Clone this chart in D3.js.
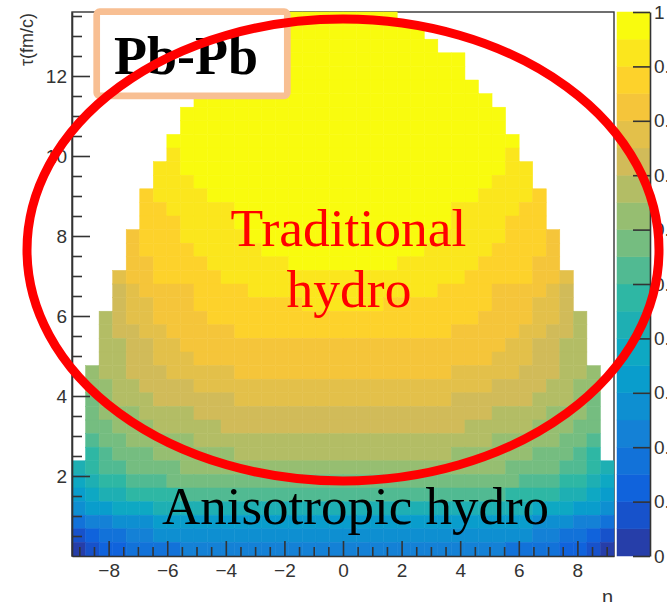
<!DOCTYPE html>
<html>
<head>
<meta charset="utf-8">
<script src="https://cdn.jsdelivr.net/npm/d3@7"></script>
<style>
    body { margin: 0; background: #fff; }
    svg { display: block; }
</style>
</head>
<body>
<div id="chart_parent"></div>
<script>
// histogram range: eta_s on x, tau (fm/c) on y, 40 x 40 bins
const etaRange = [-9.25, 9.25];
const tauRange = [0, 13.6];
const nEtaBins = 40;
const nTauBins = 40;

const xTicks = [-8, -6, -4, -2, 0, 2, 4, 6, 8];
const yTicks = [2, 4, 6, 8, 10, 12];
const zTicks = [0, 0.1, 0.2, 0.3, 0.4, 0.5, 0.6, 0.7, 0.8, 0.9, 1];

// colour level of each bin (0..9, A..J = level 0..19, '.' = empty bin)
// first row is the highest tau bin; spaces only group the columns by ten
const levelRows = [
    '.......... ......JJJJ JJJJ...... ..........',
    '.......... ....JJJJJJ JJJJJJ.... ..........',
    '.......... ...JJJJJJJ JJJJJJJ... ..........',
    '.......... .JJJJJJJJJ JJJJJJJJJ. ..........',
    '.......... .JJJJJJJJJ JJJJJJJJJ. ..........',
    '.......... JJJJJJJJJJ JJJJJJJJJJ ..........',
    '.........J JJJJJJJJJJ JJJJJJJJJJ J.........',
    '........JJ JJJJJJJJJJ JJJJJJJJJJ JJ........',
    '........JJ JJJJJJJJJJ JJJJJJJJJJ JJ........',
    '.......JJJ JJJJJJJJJJ JJJJJJJJJJ JJJ.......',
    '.......IJJ JJJJJJJJJJ JJJJJJJJJJ JJI.......',
    '......IIJJ JJJJJJJJJJ JJJJJJJJJJ JJII......',
    '......IIIJ JJJJJJJJJJ JJJJJJJJJJ JIII......',
    '.....HIIII JJJJJJJJJJ JJJJJJJJJJ IIIIH.....',
    '.....HHIII IIJJJJJJJJ JJJJJJJJII IIIHH.....',
    '.....HHHII IIJJJJJJJJ JJJJJJJJII IIHHH.....',
    '....GHHHII IIIJJJJJJJ JJJJJJJIII IIHHHG....',
    '....GHHHHI IIIIJJJJJJ JJJJJJIIII IHHHHG....',
    '....GGHHHH IIIIIIJJJJ JJJJIIIIII HHHHGG....',
    '...FGGHHHH HIIIIIIIII IIIIIIIIIH HHHHGGF...',
    '...EFGGGGH HHHIIIIIII IIIIIIIHHH HGGGGFE...',
    '...EFFGGGH HHHHHHHIII IIIHHHHHHH HGGGFFE...',
    '..DEFFGGGG HHHHHHHHHH HHHHHHHHHH GGGGFFED..',
    '..DEEFFGGG GGHHHHHHHH HHHHHHHHGG GGGFFEED..',
    '..DDEEFFGG GGGGGGGGGG GGGGGGGGGG GGFFEEDD..',
    '..DDEEFFFG GGGGGGGGGG GGGGGGGGGG GFFFEEDD..',
    '.CDDEEEFFF FFGGGGGGGG GGGGGGGGFF FFFEEEDDC.',
    '.CCDDEEEEF FFFFFFFFFF FFFFFFFFFF FEEEEDDCC.',
    '.BCDDDEEEE EEFFFFFFFF FFFFFFFFEE EEEEDDDCB.',
    '.BCCCDDDDE EEEEEEEEEE EEEEEEEEEE EDDDDCCCB.',
    '.BBCCCDDDD DEEEEEEEEE EEEEEEEEED DDDDCCCBB.',
    '.ABBCCCCCD DDDDDDDDDD DDDDDDDDDD DCCCCCBBA.',
    '.9ABBBCCCC CCDDDDDDDD DDDDDDDDCC CCCCBBBA9.',
    '89AABBBBCC CCCCCCCCCC CCCCCCCCCC CCBBBBAA98',
    '7899AAABBB BBBBBBBBBB BBBBBBBBBB BBBAAA9987',
    '67889999AA AAAAAAAAAA AAAAAAAAAA AA99998876',
    '5667778888 8888888888 8888888888 8888777665',
    '3445556666 6666666666 6666666666 6666555443',
    '1233445555 5555555555 5555555555 5555443321',
    '0122333344 4444444444 4444444444 4433332210',
];

// ROOT "bird" palette, 20 contour levels
const birdStops = [0, 0.125, 0.25, 0.375, 0.5, 0.625, 0.75, 0.875, 1];
const birdColors = ['#352a87', '#0f5cdd', '#1481d6', '#06a4ca', '#2eb7a4', '#87bf77', '#d1bb59', '#fec832', '#f9fb0e'];
const nLevels = 20;

const chartConfig = {
    outerWidth: 667,
    outerHeight: 602,
    frame: { left: 72, right: 614, top: 12, bottom: 556 },
    bar: { left: 617, right: 650 },
    axisColor: '#333',
    sans: '"Liberation Sans", Arial, sans-serif',
    serif: '"Liberation Serif", "Times New Roman", serif',
};

function buildCells(rows) {
    const etaStep = (etaRange[1] - etaRange[0]) / nEtaBins;
    const tauStep = (tauRange[1] - tauRange[0]) / nTauBins;
    const cells = [];
    rows.forEach((row, i) => {
        const bins = row.replace(/ /g, '');
        const tauBin = nTauBins - 1 - i;
        bins.split('').forEach((ch, j) => {
            if (ch === '.') {
                return;
            }
            cells.push({
                eta0: etaRange[0] + j * etaStep,
                eta1: etaRange[0] + (j + 1) * etaStep,
                tau0: tauRange[0] + tauBin * tauStep,
                tau1: tauRange[0] + (tauBin + 1) * tauStep,
                value: (parseInt(ch, 20) + 0.5) / nLevels,
            });
        });
    });
    return cells;
}

function styleAxis(g, config, size) {
    g.attr('font-family', config.sans).attr('font-size', size);
    g.selectAll('line').attr('stroke', config.axisColor).attr('stroke-width', 1.6);
    g.selectAll('path').attr('stroke', config.axisColor).attr('stroke-width', 1.6);
    g.selectAll('text').attr('fill', config.axisColor);
}

function drawChart(rootSelector, config) {
    const f = config.frame;

    const svg = d3.select(rootSelector).append('svg')
        .attr('width', config.outerWidth)
        .attr('height', config.outerHeight);

    const x = d3.scaleLinear().domain(etaRange).range([f.left, f.right]);
    const y = d3.scaleLinear().domain(tauRange).range([f.bottom, f.top]);
    const z = d3.scaleLinear().domain([0, 1]).range([f.bottom, f.top]);

    const bird = d3.scaleLinear().domain(birdStops).range(birdColors).interpolate(d3.interpolateRgb);
    const levelColors = d3.range(nLevels).map(k => bird((k + 0.99) / nLevels));
    const colour = d3.scaleQuantize().domain([0, 1]).range(levelColors);

    // frame (under the bins)
    svg.append('rect')
        .attr('x', f.left).attr('y', f.top)
        .attr('width', f.right - f.left).attr('height', f.bottom - f.top)
        .attr('fill', 'none').attr('stroke', config.axisColor).attr('stroke-width', 1.4);

    svg.append('g').selectAll('rect')
        .data(buildCells(levelRows))
        .enter()
        .append('rect')
        .attr('x', d => x(d.eta0))
        .attr('y', d => y(d.tau1))
        .attr('width', d => x(d.eta1) - x(d.eta0))
        .attr('height', d => y(d.tau0) - y(d.tau1))
        .attr('fill', d => colour(d.value))
        .attr('stroke', d => colour(d.value))
        .attr('stroke-width', 0.5);

    // x axis
    const xAxisGroup = svg.append('g').attr('transform', `translate(0,${f.bottom})`);
    xAxisGroup.call(d3.axisBottom(x).tickValues(xTicks).tickSize(-15).tickSizeOuter(0).tickPadding(8));
    styleAxis(xAxisGroup, config, 19);
    const xMinor = svg.append('g').attr('transform', `translate(0,${f.bottom})`);
    xMinor.call(d3.axisBottom(x).tickValues(d3.range(-9, 9.01, 0.5).filter(v => v % 2 !== 0))
        .tickSize(-9).tickFormat(''));
    xMinor.select('.domain').remove();
    styleAxis(xMinor, config, 19);

    // y axis
    const yAxisGroup = svg.append('g').attr('transform', `translate(${f.left},0)`);
    yAxisGroup.call(d3.axisLeft(y).tickValues(yTicks).tickSize(-18).tickSizeOuter(0).tickPadding(5));
    styleAxis(yAxisGroup, config, 19);
    const yMinor = svg.append('g').attr('transform', `translate(${f.left},0)`);
    yMinor.call(d3.axisLeft(y).tickValues(d3.range(0.5, 13.51, 0.5).filter(v => v % 2 !== 0))
        .tickSize(-10).tickFormat(''));
    yMinor.select('.domain').remove();
    styleAxis(yMinor, config, 19);

    svg.append('text')
        .attr('transform', `translate(33,${f.top + 1}) rotate(-90)`)
        .attr('text-anchor', 'end')
        .attr('font-family', config.sans)
        .attr('font-size', 18)
        .attr('fill', config.axisColor)
        .text('τ(fm/c)');

    // axis title, only its top shows at the bottom edge
    svg.append('text')
        .attr('x', 602).attr('y', 604)
        .attr('font-family', config.sans)
        .attr('font-size', 20)
        .attr('fill', config.axisColor)
        .text('η');

    // palette
    svg.append('g').selectAll('rect')
        .data(levelColors)
        .enter()
        .append('rect')
        .attr('x', config.bar.left)
        .attr('y', (d, k) => z((k + 1) / nLevels))
        .attr('width', config.bar.right - config.bar.left)
        .attr('height', (d, k) => z(k / nLevels) - z((k + 1) / nLevels))
        .attr('fill', d => d)
        .attr('stroke', d => d)
        .attr('stroke-width', 0.5);

    const zAxisGroup = svg.append('g').attr('transform', `translate(${config.bar.right},0)`);
    zAxisGroup.call(d3.axisRight(z).tickValues(zTicks).tickSize(-17).tickSizeOuter(0).tickPadding(4)
        .tickFormat(d => (d === 0 || d === 1 ? String(d) : d3.format('.1f')(d))));
    styleAxis(zAxisGroup, config, 19);

    // annotations
    svg.append('rect')
        .attr('x', 96.7).attr('y', 11.7)
        .attr('width', 190.6).attr('height', 84.1)
        .attr('rx', 3)
        .attr('fill', '#fff')
        .attr('stroke', '#f8bf93')
        .attr('stroke-width', 6.7);

    svg.append('text')
        .attr('x', 186).attr('y', 73.5)
        .attr('text-anchor', 'middle')
        .attr('font-family', config.serif)
        .attr('font-weight', 'bold')
        .attr('font-size', 54)
        .attr('fill', '#000')
        .text('Pb-Pb');

    const notes = [
        { text: 'Traditional', x: 348.5, y: 246, size: 53.5, fill: '#f00' },
        { text: 'hydro', x: 349, y: 307, size: 53.5, fill: '#f00' },
        { text: 'Anisotropic hydro', x: 355.5, y: 524, size: 53, fill: '#000' },
    ];
    svg.append('g').selectAll('text')
        .data(notes)
        .enter()
        .append('text')
        .attr('x', d => d.x)
        .attr('y', d => d.y)
        .attr('text-anchor', 'middle')
        .attr('font-family', config.serif)
        .attr('font-size', d => d.size)
        .attr('fill', d => d.fill)
        .text(d => d.text);

    svg.append('ellipse')
        .attr('cx', 343).attr('cy', 250)
        .attr('rx', 316).attr('ry', 231)
        .attr('fill', 'none')
        .attr('stroke', '#f00')
        .attr('stroke-width', 9);
}

drawChart('#chart_parent', chartConfig);
</script>
</body>
</html>
